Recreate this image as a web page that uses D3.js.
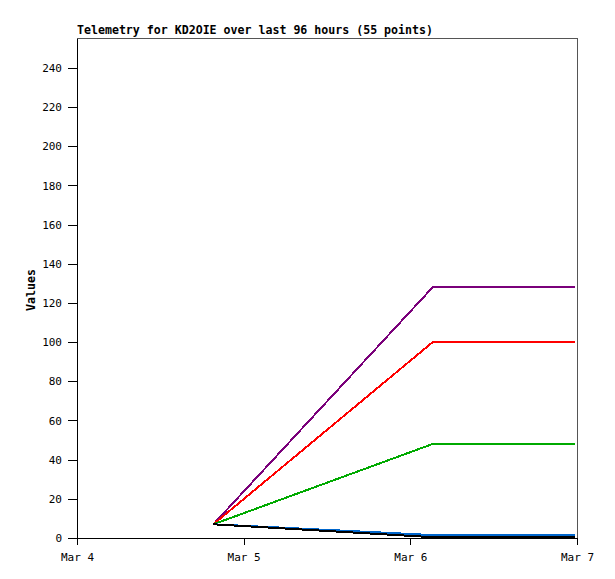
<!DOCTYPE html>
<html>
<head>
<meta charset="utf-8">
<script src="https://cdn.jsdelivr.net/npm/d3@7"></script>
<style>
  body { margin: 0; background: #fff; }
  svg { display: block; }
  text { font-family: "DejaVu Sans Mono", "Liberation Mono", monospace; }
</style>
</head>
<body>
<svg id="chart" width="615" height="579"></svg>
<script>
// ---- data ----
const titleText = "Telemetry for KD2OIE over last 96 hours (55 points)";
const yLabel = "Values";
const xTickDates = ["2024-03-04T00:00", "2024-03-05T00:00", "2024-03-06T00:00", "2024-03-07T00:00"];
const xTickLabels = ["Mar 4", "Mar 5", "Mar 6", "Mar 7"];
const yTicks = [0, 20, 40, 60, 80, 100, 120, 140, 160, 180, 200, 220, 240];
const times = ["2024-03-04T19:38", "2024-03-06T03:13", "2024-03-06T23:43"];
const seriesNames = ["purple", "red", "green", "blue", "black"];
const purpleValues = [7, 128, 128];
const redValues = [7, 100, 100];
const greenValues = [7, 48, 48];
const blueValues = [7, 1.5, 1.5];
const blackValues = [7, 0.4, 0.4];
const seriesColors = ["#7a007a", "#ff0000", "#00aa00", "#0066cc", "#000000"];

// ---- chart ----
(function () {
const svg = d3.select("#chart");
const parse = d3.timeParse("%Y-%m-%dT%H:%M");
const mLeft = 77, mRight = 577, mTop = 38, mBottom = 538;

const x = d3.scaleTime()
  .domain([parse(xTickDates[0]), parse(xTickDates[xTickDates.length - 1])])
  .range([mLeft, mRight]);
const y = d3.scaleLinear().domain([0, 255.3]).range([mBottom, mTop]);

// frame (top/right gray)
svg.append("path")
  .attr("d", `M${mLeft},${mTop}H${mRight}V${mBottom}`)
  .attr("fill", "none").attr("stroke", "#555").attr("stroke-width", 1)
  .attr("shape-rendering", "crispEdges");

// series
const allValues = [purpleValues, redValues, greenValues, blueValues, blackValues];
const line = d3.line().x(d => x(d.t)).y(d => y(d.v));
allValues.forEach((vals, i) => {
  const pts = vals.map((v, j) => ({ t: parse(times[j]), v }));
  svg.append("path")
    .datum(pts)
    .attr("d", line)
    .attr("fill", "none")
    .attr("stroke", seriesColors[i])
    .attr("stroke-width", 2)
    .attr("shape-rendering", "crispEdges");
});

// x axis
const xAxis = d3.axisBottom(x)
  .tickValues(xTickDates.map(parse))
  .tickFormat((d, i) => xTickLabels[i])
  .tickSizeInner(7).tickSizeOuter(0).tickPadding(8);
const gx = svg.append("g").attr("transform", `translate(0,${mBottom})`).call(xAxis);
gx.selectAll("path,line").attr("stroke", "#000").attr("shape-rendering", "crispEdges");
gx.selectAll("text").attr("font-size", 11).attr("fill", "#000");

// y axis
const yAxis = d3.axisLeft(y)
  .tickValues(yTicks)
  .tickSizeInner(9).tickSizeOuter(0).tickPadding(6);
const gy = svg.append("g").attr("transform", `translate(${mLeft},0)`).call(yAxis);
gy.selectAll("path,line").attr("stroke", "#000").attr("shape-rendering", "crispEdges");
gy.selectAll("text").attr("font-size", 11).attr("fill", "#000");

// title
svg.append("text")
  .attr("x", mLeft).attr("y", 34)
  .attr("font-size", 11.6).attr("font-weight", "bold")
  .text(titleText);

// y label
svg.append("text")
  .attr("transform", `translate(35,${(mTop + mBottom) / 2 + 2}) rotate(-90)`)
  .attr("text-anchor", "middle")
  .attr("font-size", 11.6).attr("font-weight", "bold")
  .text(yLabel);
})();
</script>
</body>
</html>
